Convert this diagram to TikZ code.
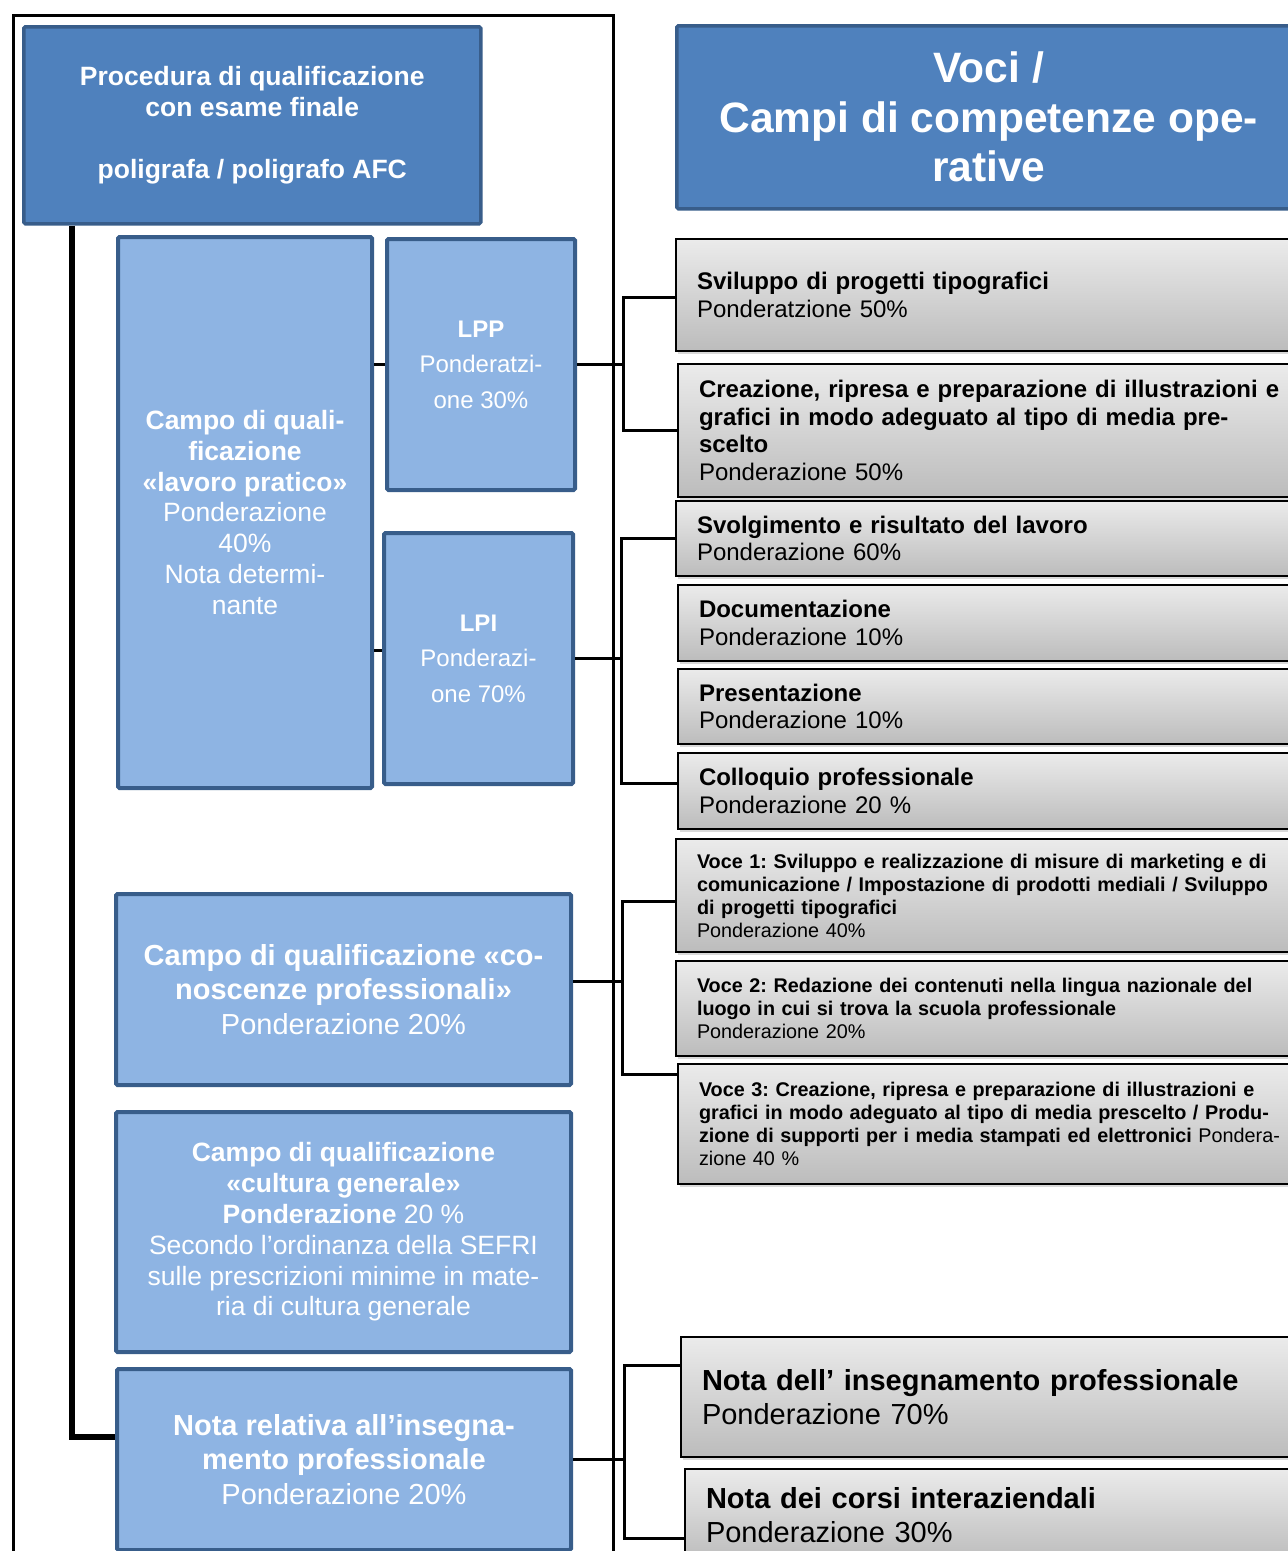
\documentclass[tikz,border=0pt]{standalone}
\usepackage{fontspec}
\setmainfont{Liberation Sans}
\usetikzlibrary{shadows}
\definecolor{darkblue}{HTML}{4F81BD}
\definecolor{lightblue}{HTML}{8EB4E3}
\definecolor{edgeblue}{HTML}{385D8A}
\definecolor{graytop}{HTML}{EBEBEB}
\definecolor{graybot}{HTML}{BCBCBC}
\newcommand{\FS}[2]{\fontsize{#1}{#2}\selectfont}
\frenchspacing

\begin{document}
\begin{tikzpicture}[x=1pt,y=-1pt,
   headbox/.style={draw=edgeblue,line width=3.5pt,fill=darkblue,text=white,align=center,anchor=north west,rounded corners=1.5pt},
   fieldbox/.style={draw=edgeblue,line width=4pt,fill=lightblue,text=white,align=center,anchor=north west,rounded corners=1.5pt},
   itembox/.style={draw=black,line width=2pt,top color=graytop,bottom color=graybot,anchor=north west,align=left,text width=610pt,inner xsep=21pt,
     drop shadow={shadow xshift=2pt,shadow yshift=-3pt,opacity=.3}},
   link/.style={line width=3pt},
   trunk/.style={line width=6pt}]
   \useasboundingbox (0,0) rectangle (1288,1551);
   \clip (0,0) rectangle (1288,1551);
   \draw[line width=3pt] (13,15) rectangle (613,1600);

   % left column
   \node (proc) at (22,25) [headbox,minimum width=457pt,minimum height=197pt,font={\bfseries\FS{26.5}{31}}]
     {Procedura di qualificazione\\con esame finale\\[31pt]poligrafa / poligrafo AFC};
   \node (lavoro) at (116,235) [fieldbox,minimum width=254pt,minimum height=551pt,font={\FS{26.5}{30.8}}]
     {\textbf{Campo di quali-}\\\textbf{ficazione}\\\textbf{«lavoro pratico»}\\Ponderazione\\40\%\\Nota determi-\\nante};
   \node (lpp) at (385,237) [fieldbox,minimum width=188pt,minimum height=251pt,font={\FS{24}{35.5}}]
     {\textbf{LPP}\\Ponderatzi-\\one 30\%};
   \node (lpi) at (382,531) [fieldbox,minimum width=189pt,minimum height=251pt,font={\FS{24}{35.5}}]
     {\textbf{LPI}\\Ponderazi-\\one 70\%};
   \node (conosc) at (114,892) [fieldbox,minimum width=455pt,minimum height=191pt,font={\FS{29}{34.5}}]
     {\textbf{Campo di qualificazione «co-}\\\textbf{noscenze professionali»}\\Ponderazione 20\%};
   \node (cultura) at (114,1110) [fieldbox,minimum width=455pt,minimum height=240pt,font={\FS{26.5}{30.8}}]
     {\textbf{Campo di qualificazione}\\\textbf{«cultura generale»}\\\textbf{Ponderazione} 20 \%\\Secondo l’ordinanza della SEFRI\\sulle prescrizioni minime in mate-\\ria di cultura generale};
   \node (notarel) at (115,1367) [fieldbox,minimum width=454pt,minimum height=181pt,font={\FS{29}{34.5}}]
     {\textbf{Nota relativa all’insegna-}\\\textbf{mento professionale}\\Ponderazione 20\%};

   % right column
   \node (voci) at (675,24) [headbox,minimum width=624pt,minimum height=183pt,font={\bfseries\FS{42.5}{49.5}}]
     {Voci /\\Campi di competenze ope-\\rative};
   \node (sviluppo) at (675,238) [itembox,minimum height=112pt,font={\FS{24}{27.5}}]
     {\textbf{Sviluppo di progetti tipografici}\\Ponderatzione 50\%};
   \node (creazione) at (677,363) [itembox,minimum height=133pt,font={\FS{24}{27.5}}]
     {\textbf{Creazione, ripresa e preparazione di illustrazioni e}\\\textbf{grafici in modo adeguato al tipo di media pre-}\\\textbf{scelto}\\Ponderazione 50\%};
   \node (svolg) at (675,500) [itembox,minimum height=75pt,font={\FS{24}{27.5}}]
     {\textbf{Svolgimento e risultato del lavoro}\\Ponderazione 60\%};
   \node (docum) at (677,584) [itembox,minimum height=76pt,font={\FS{24}{27.5}}]
     {\textbf{Documentazione}\\Ponderazione 10\%};
   \node (present) at (677,668) [itembox,minimum height=75pt,font={\FS{24}{27.5}}]
     {\textbf{Presentazione}\\Ponderazione 10\%};
   \node (colloq) at (677,752) [itembox,minimum height=76pt,font={\FS{24}{27.5}}]
     {\textbf{Colloquio professionale}\\Ponderazione 20 \%};
   \node (voce1) at (675,838) [itembox,minimum height=113pt,font={\FS{19.8}{23}}]
     {\textbf{Voce 1: Sviluppo e realizzazione di misure di marketing e di}\\\textbf{comunicazione / Impostazione di prodotti mediali / Sviluppo}\\\textbf{di progetti tipografici}\\Ponderazione 40\%};
   \node (voce2) at (675,960) [itembox,minimum height=95pt,font={\FS{19.8}{23}}]
     {\textbf{Voce 2: Redazione dei contenuti nella lingua nazionale del}\\\textbf{luogo in cui si trova la scuola professionale}\\Ponderazione 20\%};
   \node (voce3) at (677,1063) [itembox,minimum height=120pt,font={\FS{19.8}{23}}]
     {\textbf{Voce 3: Creazione, ripresa e preparazione di illustrazioni e}\\\textbf{grafici in modo adeguato al tipo di media prescelto / Produ-}\\\textbf{zione di supporti per i media stampati ed elettronici} Pondera-\\zione 40 \%};
   \node (notains) at (680,1336) [itembox,minimum height=120pt,font={\FS{29}{34}}]
     {\textbf{Nota dell’ insegnamento professionale}\\Ponderazione 70\%};
   \node (notacie) at (684,1468) [itembox,minimum height=92pt,font={\FS{29}{34}}]
     {\textbf{Nota dei corsi interaziendali}\\Ponderazione 30\%};

   % connectors
   \coordinate (br1) at ([xshift=46pt]lpp.east);
   \coordinate (br2) at ([xshift=46pt]lpi.east);
   \coordinate (br3) at ([shift={(49pt,8.5pt)}]conosc.east);
   \coordinate (br4) at ([xshift=51pt]notarel.east);
   \draw[trunk] ([xshift=50pt]proc.south west) |- ([yshift=22.5pt]notarel.west);
   \draw[link] (lavoro.east |- lpp.west) -- (lpp.west);
   \draw[link] ([yshift=8pt]lavoro.east |- lpi.west) -- ([yshift=8pt]lpi.west);
   \draw[link] (lpp.east) -- (br1);
   \draw[link] ([yshift=-2pt]sviluppo.west) -| (br1) |- (creazione.west);
   \draw[link] (lpi.east) -- (br2);
   \draw[link] (svolg.west) -| (br2) |- ([yshift=8pt]colloq.west);
   \draw[link] ([yshift=8.5pt]conosc.east) -- (br3);
   \draw[link] ([yshift=-5.5pt]voce1.west) -| (br3) |- ([yshift=-11pt]voce3.north west);
   \draw[link] (notarel.east) -- (br4);
   \draw[link] ([yshift=-29pt]notains.north west) -| (br4) |- ([yshift=-70pt]notacie.north west);
\end{tikzpicture}
\end{document}
